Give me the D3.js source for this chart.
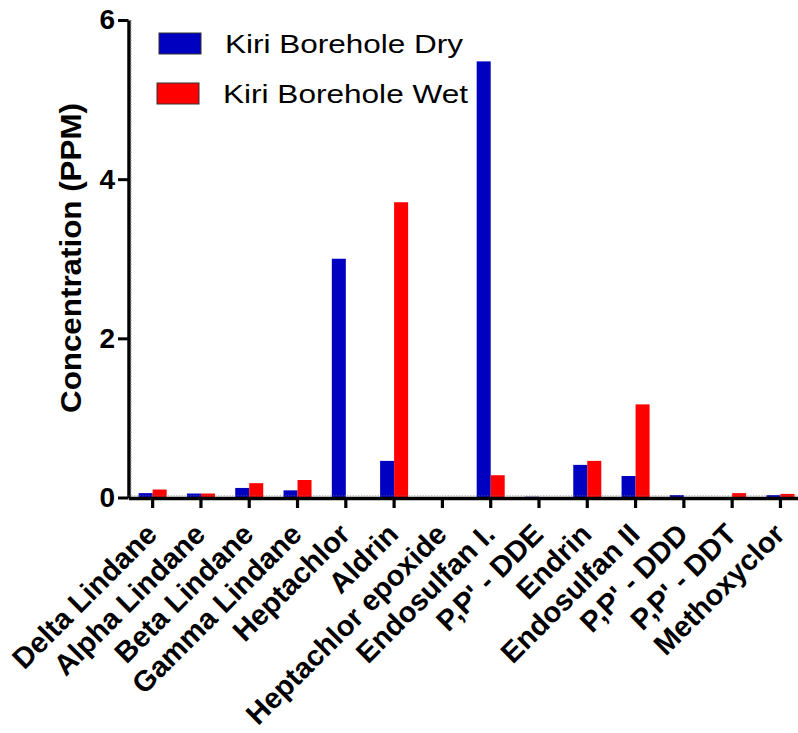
<!DOCTYPE html>
<html>
<head>
<meta charset="utf-8">
<script src="https://cdn.jsdelivr.net/npm/d3@7"></script>
<style>
  html, body { margin: 0; padding: 0; background: #fff; }
  svg { display: block; }
  text { font-family: "Liberation Sans", Arial, Helvetica, sans-serif; fill: #000; }
</style>
</head>
<body>
<svg id="chart" width="798" height="733"></svg>
<script>
// Pesticide residues in Kiri borehole water, dry vs wet season (PPM)
const categories = [
  "Delta Lindane", "Alpha Lindane", "Beta Lindane", "Gamma Lindane",
  "Heptachlor", "Aldrin", "Heptachlor epoxide", "Endosulfan I.",
  "P,P' - DDE", "Endrin", "Endosulfan II", "P,P' - DDD",
  "P,P' - DDT", "Methoxyclor"
];
const seriesNames = ["Kiri Borehole Dry", "Kiri Borehole Wet"];
const dryValues = [0.055, 0.05, 0.12, 0.09, 3.0, 0.46, 0, 5.48, 0.01, 0.41, 0.27, 0.03, 0, 0.03];
const wetValues = [0.10, 0.05, 0.18, 0.22, 0, 3.71, 0, 0.28, 0, 0.46, 1.17, 0, 0.055, 0.045];
const yTicks = [0, 2, 4, 6];
const seriesColors = ["#0000C0", "#FF0000"];

const svg = d3.select("#chart");

const y = d3.scaleLinear().domain([0, 6]).range([497.5, 20]);
const x = d3.scaleBand().domain(categories).range([128.5, 804.6])
  .paddingInner(0.42).paddingOuter(0.21);
const xs = d3.scaleBand().domain(seriesNames).range([0, x.bandwidth()]);

const rows = categories.map((c, i) => ({ cat: c, vals: [dryValues[i], wetValues[i]] }));

// bars
const groups = svg.append("g").selectAll("g").data(rows).join("g")
  .attr("transform", d => `translate(${x(d.cat)},0)`);
groups.selectAll("rect")
  .data(d => d.vals.map((v, k) => ({ v, name: seriesNames[k], k })))
  .join("rect")
  .attr("x", d => xs(d.name))
  .attr("width", xs.bandwidth())
  .attr("y", d => y(d.v))
  .attr("height", d => y(0) - y(d.v))
  .attr("fill", d => seriesColors[d.k]);

// y axis
const yAxis = svg.append("g").attr("transform", "translate(128.5,0)")
  .call(d3.axisLeft(y).tickValues(yTicks).tickFormat(d3.format("d"))
    .tickSize(10.5).tickSizeOuter(0).tickPadding(3));
yAxis.select(".domain").attr("stroke", "#000").attr("stroke-width", 3.5);
yAxis.selectAll(".tick line").attr("stroke", "#000").attr("stroke-width", 3);
yAxis.selectAll(".tick text")
  .attr("font-size", 28).attr("font-weight", "bold")
  .style("font-family", '"Liberation Sans", Arial, sans-serif');

// fine notches along the inner edge of the y axis
svg.append("line")
  .attr("x1", 130.8).attr("x2", 130.8)
  .attr("y1", y(6)).attr("y2", y(0))
  .attr("stroke", "#777").attr("stroke-width", 1.2)
  .attr("stroke-dasharray", "1.4,1.4");

// x axis
const xAxis = svg.append("g").attr("transform", "translate(0,498)")
  .call(d3.axisBottom(x).tickSize(10).tickSizeOuter(0));
xAxis.select(".domain").attr("stroke", "#000").attr("stroke-width", 3.5);
xAxis.selectAll(".tick line").attr("stroke", "#000").attr("stroke-width", 3.2);
xAxis.selectAll(".tick text")
  .attr("x", 6).attr("y", 38).attr("dy", 0)
  .attr("text-anchor", "end")
  .attr("transform", "rotate(-45,6,38)")
  .attr("font-size", 29).attr("font-weight", "bold")
  .style("font-family", '"Liberation Sans", Arial, sans-serif');

// fine notches along the x axis
svg.append("line")
  .attr("x1", 128.5).attr("x2", 798)
  .attr("y1", 495.8).attr("y2", 495.8)
  .attr("stroke", "#777").attr("stroke-width", 1)
  .attr("stroke-dasharray", "1.4,1.4")
  .attr("opacity", 0.6);

// y axis title
svg.append("text")
  .attr("transform", "translate(81,258) rotate(-90)")
  .attr("text-anchor", "middle")
  .attr("font-size", 30).attr("font-weight", "bold")
  .attr("textLength", 310).attr("lengthAdjust", "spacingAndGlyphs")
  .text("Concentration (PPM)");

// legend
const legendItems = [
  { name: seriesNames[0], color: seriesColors[0], rx: 159, ry: 33, tx: 225, ty: 53, len: 238 },
  { name: seriesNames[1], color: seriesColors[1], rx: 157, ry: 83, tx: 223, ty: 103, len: 245 }
];
const legend = svg.append("g");
legend.selectAll("rect").data(legendItems).join("rect")
  .attr("x", d => d.rx).attr("y", d => d.ry)
  .attr("width", 42).attr("height", 21)
  .attr("fill", d => d.color)
  .attr("stroke", "#333").attr("stroke-width", 1);
legend.selectAll("text").data(legendItems).join("text")
  .attr("x", d => d.tx).attr("y", d => d.ty)
  .attr("font-size", 26)
  .attr("textLength", d => d.len).attr("lengthAdjust", "spacingAndGlyphs")
  .text(d => d.name);
</script>
</body>
</html>
